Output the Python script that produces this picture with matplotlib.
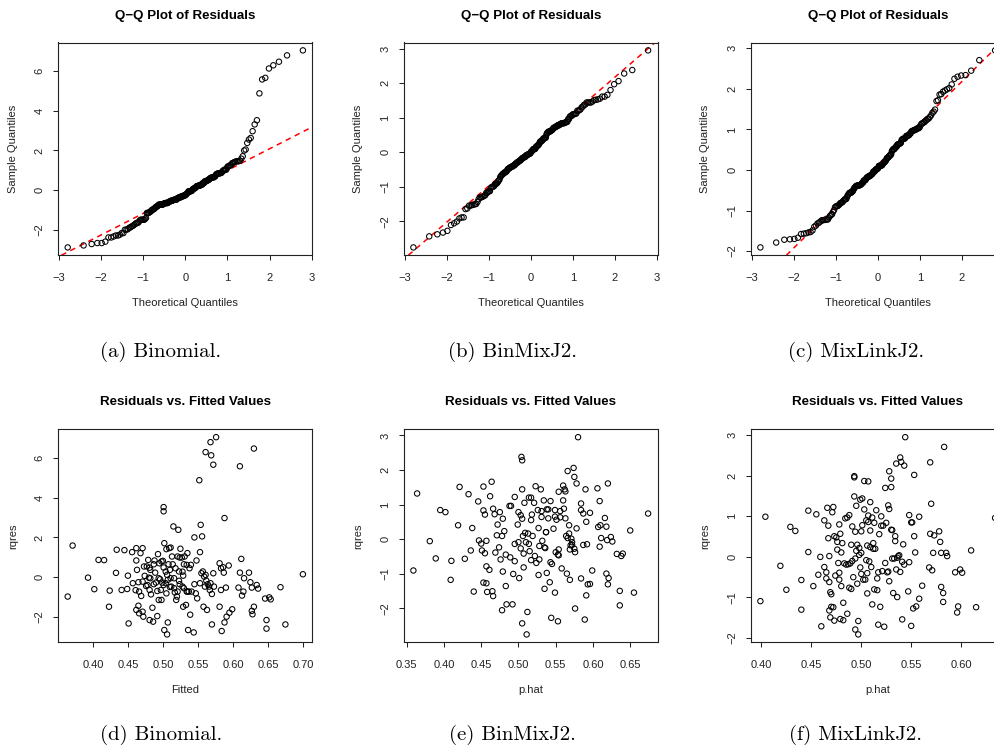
"""
Residual diagnostics for the three models: Q-Q plots (top row) and
residuals vs fitted values (bottom row), laid out like the LaTeX figure.
"""

import statistics
import numpy as np
import matplotlib
matplotlib.use("Agg")
import matplotlib.pyplot as plt


W, H = 995, 755

# ─── DATA ────────────────────────────────────────────────────────────────────

# (d) Binomial: fitted values and quantile residuals
FIT_BIN = [
    0.364, 0.371, 0.393, 0.402, 0.408, 0.416, 0.424, 0.423, 0.433, 0.434,
    0.441, 0.445, 0.449, 0.450, 0.451, 0.456, 0.457, 0.461, 0.462, 0.462,
    0.463, 0.465, 0.466, 0.465, 0.462, 0.466, 0.468, 0.471, 0.469, 0.471,
    0.472, 0.473, 0.474, 0.476, 0.477, 0.479, 0.480, 0.481, 0.481, 0.482,
    0.483, 0.485, 0.486, 0.487, 0.488, 0.489, 0.490, 0.492, 0.493, 0.494,
    0.495, 0.496, 0.497, 0.498, 0.499, 0.500, 0.501, 0.502, 0.501, 0.501,
    0.502, 0.504, 0.505, 0.505, 0.506, 0.506, 0.507, 0.507, 0.509, 0.510,
    0.510, 0.511, 0.512, 0.513, 0.514, 0.515, 0.516, 0.517, 0.519, 0.520,
    0.521, 0.522, 0.523, 0.524, 0.525, 0.527, 0.528, 0.529, 0.529, 0.530,
    0.531, 0.533, 0.534, 0.535, 0.536, 0.537, 0.538, 0.539, 0.540, 0.541,
    0.544, 0.545, 0.545, 0.547, 0.548, 0.549, 0.552, 0.553, 0.553, 0.554,
    0.555, 0.556, 0.557, 0.558, 0.559, 0.560, 0.561, 0.562, 0.563, 0.564,
    0.566, 0.567, 0.568, 0.568, 0.569, 0.570, 0.570, 0.572, 0.572, 0.573,
    0.576, 0.581, 0.583, 0.581, 0.584, 0.586, 0.587, 0.588, 0.588, 0.590,
    0.591, 0.594, 0.595, 0.599, 0.608, 0.610, 0.610, 0.612, 0.613, 0.615,
    0.616, 0.623, 0.625, 0.627, 0.627, 0.628, 0.630, 0.630, 0.634, 0.636,
    0.646, 0.652, 0.654, 0.648, 0.648, 0.668, 0.675, 0.700,
    0.481, 0.498, 0.508, 0.524, 0.518, 0.504, 0.494, 0.482, 0.471, 0.478,
    0.487, 0.501, 0.511, 0.523, 0.516, 0.530, 0.535, 0.521, 0.492, 0.528,
    0.534, 0.561, 0.583,
]
RES_BIN = [
    -0.97, 1.59, -0.02, -0.60, 0.87, 0.86, -0.67, -1.48, 0.22, 1.38,
    -0.64, 1.36, -0.59, 0.08, -2.32, 1.26, -0.30, -0.65, 1.46, 0.84,
    0.37, -0.25, -0.72, -1.43, -1.64, -1.81, 1.21, 1.46, -0.94, -1.73,
    -1.98, 0.54, 0.07, -0.44, 0.54, 0.87, -0.02, -0.64, -2.15, 0.37,
    -0.86, -1.53, -2.23, 0.65, 0.84, 0.23, -0.27, -1.95, 1.16, -1.14,
    0.70, -0.10, -0.64, -1.14, -0.27, 0.82, 0.49, 1.71, 3.52, 3.31,
    -2.65, -0.30, 1.41, -0.81, -2.87, 0.12, -0.13, -2.27, 1.46, 0.37,
    -0.49, 1.49, -0.47, 1.04, 0.65, 2.55, -0.05, -0.76, -1.14, -0.97,
    1.04, 2.38, 0.29, -0.35, 1.43, 0.99, -0.47, -1.48, 0.08, 0.65,
    1.04, -1.39, -0.72, 1.21, -2.65, -0.72, 0.45, -1.88, 0.62, -0.72,
    -2.77, -0.35, 2.00, -0.81, 0.84, -1.06, 4.87, 1.26, -0.30, 2.63,
    0.20, 2.05, 0.29, -1.48, 0.03, -0.47, 6.28, -0.17, -1.64, -0.35,
    -0.47, -0.64, 6.78, -0.30, 6.12, -0.84, -2.37, 0.20, 5.65, -0.47,
    7.03, -1.48, -0.64, 0.70, -2.70, 0.50, 0.23, 2.97, -2.27, -0.52,
    -1.98, 0.59, -1.78, -1.61, -0.52, 5.57, 0.23, 0.92, -0.92, -0.72,
    -0.05, 0.23, -0.25, -1.69, -0.52, -1.86, -1.48, 6.46, -0.39, -0.57,
    -1.07, -1.01, -1.11, -2.15, -2.58, -0.50, -2.37, 0.15,
    0.48, 0.79, 0.65, 0.99, 0.45, 0.28, -0.05, -0.05, -0.22, -0.39,
    -0.35, -0.39, -0.05, -0.18, -0.55, -0.55, -0.72, -0.72, -0.69, 0.28,
    0.62, 0.12, 0.45,
]

# (e) BinMixJ2
FIT_BMX = [
    0.359, 0.364, 0.381, 0.389, 0.395, 0.402, 0.410, 0.409, 0.419, 0.421,
    0.428, 0.433, 0.436, 0.438, 0.440, 0.446, 0.447, 0.450, 0.451, 0.453,
    0.453, 0.453, 0.455, 0.455, 0.457, 0.457, 0.457, 0.458, 0.461, 0.462,
    0.464, 0.465, 0.466, 0.466, 0.468, 0.469, 0.471, 0.472, 0.474, 0.475,
    0.476, 0.478, 0.478, 0.479, 0.479, 0.481, 0.483, 0.483, 0.484, 0.488,
    0.489, 0.490, 0.492, 0.493, 0.495, 0.495, 0.495, 0.499, 0.500, 0.500,
    0.501, 0.503, 0.503, 0.504, 0.505, 0.505, 0.505, 0.505, 0.506, 0.507,
    0.507, 0.508, 0.509, 0.510, 0.511, 0.512, 0.513, 0.514, 0.514, 0.515,
    0.517, 0.517, 0.517, 0.518, 0.519, 0.521, 0.522, 0.523, 0.524, 0.526,
    0.527, 0.527, 0.528, 0.528, 0.530, 0.531, 0.531, 0.532, 0.534, 0.535,
    0.535, 0.536, 0.537, 0.537, 0.538, 0.538, 0.540, 0.540, 0.542, 0.543,
    0.543, 0.544, 0.545, 0.547, 0.549, 0.549, 0.549, 0.550, 0.551, 0.553,
    0.553, 0.554, 0.554, 0.556, 0.556, 0.554, 0.558, 0.560, 0.560, 0.561,
    0.562, 0.563, 0.563, 0.564, 0.565, 0.566, 0.566, 0.568, 0.568, 0.569,
    0.569, 0.570, 0.571, 0.572, 0.572, 0.574, 0.575, 0.575, 0.576, 0.576,
    0.578, 0.578, 0.580, 0.584, 0.584, 0.584, 0.587, 0.587, 0.589, 0.590,
    0.591, 0.591, 0.592, 0.593, 0.596, 0.596, 0.599, 0.606, 0.607, 0.609,
    0.609, 0.610, 0.611, 0.616, 0.618, 0.618, 0.619, 0.620, 0.620, 0.621,
    0.624, 0.626, 0.632, 0.636, 0.636, 0.638, 0.640, 0.650, 0.655, 0.674,
]
RES_BMX = [
    -0.91, 1.32, -0.06, -0.56, 0.84, 0.78, -0.63, -1.18, 0.40, 1.51,
    -0.57, 1.30, -0.33, 0.32, -1.52, 1.09, -0.04, -0.13, -0.33, -1.26,
    1.52, 0.83, 0.71, -0.41, -1.28, -0.05, -0.79, -1.53, -0.89, 1.24,
    1.66, -1.51, -1.65, 0.88, 0.72, -0.39, 0.11, 0.42, -0.24, 0.78,
    -0.59, 0.09, -2.06, 0.59, -0.94, 0.23, -0.45, -1.36, -1.89, 0.96,
    -0.53, 0.96, -1.89, -1.01, -0.64, 1.22, -0.14, 0.42, 0.78, -0.09,
    -1.13, 0.69, -0.27, 2.38, 1.44, 0.59, -2.44, 2.28, 0.09, -0.82,
    -0.42, 1.05, 0.18, -0.09, -2.76, -2.11, 0.16, 1.20, -0.14, -0.35,
    0.55, -0.61, 1.20, 0.71, 0.09, 1.05, -0.49, 1.53, -0.69, 0.84,
    -1.04, 0.32, -0.59, -0.20, 1.44, 0.81, 0.64, -0.05, 1.12, -0.24,
    -1.44, -0.26, 0.20, 0.20, 0.86, -0.98, 0.86, 0.60, -1.25, 1.10,
    -0.67, -2.28, -0.72, 0.30, -1.55, 0.65, 0.84, -0.38, 0.56, -2.38,
    -0.45, -0.30, -0.47, 0.81, 0.63, 1.37, -0.85, 1.55, 1.12, 0.88,
    1.44, 1.38, 0.60, 0.09, -1.00, 1.97, 0.03, 0.40, 0.16, -0.30,
    -1.18, -0.18, 0.01, -0.09, -0.17, 2.06, -0.28, 1.80, -2.01, -0.38,
    1.61, 0.31, 2.95, 1.03, 0.84, -1.14, -0.17, 0.74, -2.33, 1.44,
    0.50, -1.63, -0.15, -1.31, 0.76, -1.30, -0.91, 1.47, 0.35, 1.10,
    -0.22, 0.40, 0.03, 0.61, 0.36, -1.00, -0.03, 1.61, -1.31, -1.13,
    0.06, -0.07, -0.43, -1.92, -1.50, -0.49, -0.42, 0.25, -1.55, 0.74,
]

# (f) MixLinkJ2
FIT_MLK = [
    0.399, 0.404, 0.419, 0.425, 0.429, 0.434, 0.440, 0.440, 0.447, 0.447,
    0.452, 0.455, 0.457, 0.459, 0.460, 0.463, 0.463, 0.465, 0.465, 0.466,
    0.467, 0.467, 0.468, 0.468, 0.468, 0.469, 0.469, 0.470, 0.470, 0.471,
    0.472, 0.472, 0.473, 0.473, 0.474, 0.475, 0.476, 0.476, 0.477, 0.478,
    0.478, 0.478, 0.479, 0.479, 0.480, 0.480, 0.481, 0.482, 0.482, 0.483,
    0.484, 0.485, 0.486, 0.486, 0.487, 0.488, 0.488, 0.489, 0.490, 0.490,
    0.491, 0.491, 0.492, 0.493, 0.493, 0.493, 0.494, 0.494, 0.494, 0.495,
    0.495, 0.496, 0.496, 0.497, 0.497, 0.498, 0.498, 0.499, 0.499, 0.500,
    0.500, 0.500, 0.501, 0.501, 0.502, 0.503, 0.503, 0.504, 0.505, 0.505,
    0.506, 0.506, 0.506, 0.507, 0.507, 0.507, 0.508, 0.509, 0.509, 0.509,
    0.510, 0.511, 0.511, 0.512, 0.512, 0.513, 0.513, 0.514, 0.515, 0.516,
    0.516, 0.517, 0.517, 0.518, 0.519, 0.520, 0.520, 0.521, 0.522, 0.523,
    0.524, 0.524, 0.525, 0.526, 0.527, 0.527, 0.528, 0.528, 0.528, 0.530,
    0.530, 0.530, 0.531, 0.531, 0.532, 0.533, 0.534, 0.534, 0.535, 0.535,
    0.536, 0.536, 0.537, 0.538, 0.539, 0.539, 0.540, 0.541, 0.541, 0.542,
    0.543, 0.543, 0.544, 0.547, 0.548, 0.548, 0.550, 0.550, 0.551, 0.552,
    0.553, 0.553, 0.554, 0.555, 0.558, 0.558, 0.561, 0.568, 0.569, 0.569,
    0.570, 0.571, 0.572, 0.573, 0.578, 0.579, 0.580, 0.580, 0.582, 0.582,
    0.583, 0.585, 0.586, 0.594, 0.596, 0.597, 0.599, 0.601, 0.610, 0.615,
    0.634,
]
RES_MLK = [
    -1.09, 0.99, -0.22, -0.81, 0.74, 0.64, -1.30, -0.57, 0.12, 1.14,
    -0.72, 1.05, -0.44, 0.00, -1.71, 0.90, -0.25, -0.38, -0.53, 1.21,
    0.77, 0.46, -0.62, -1.32, 0.02, -0.87, -1.49, -1.23, -0.92, 1.10,
    1.23, -1.24, 0.51, -1.57, -0.46, 0.48, 0.37, 0.18, -0.15, -0.39,
    0.80, -0.56, -1.53, 0.57, 0.11, -0.72, 0.34, -1.13, -1.56, -0.16,
    0.95, -0.19, 0.97, -1.40, -0.18, -0.76, 1.03, -0.16, 0.30, -0.79,
    -0.10, 0.75, -0.50, 1.99, 1.96, 1.49, 0.62, -1.79, -0.04, 0.15,
    1.26, -0.66, 0.30, -1.58, -1.91, 0.05, 0.22, 1.41, -0.26, -0.42,
    0.10, 0.63, 0.78, 1.44, -0.56, 1.17, 1.87, -0.56, -0.08, 0.90,
    0.28, -0.40, -0.90, 1.02, 0.86, 1.86, -0.11, 0.24, 1.35, 0.65,
    -0.25, -1.17, 0.97, 0.34, 0.20, -0.80, 0.84, 0.20, 1.15, -0.82,
    -0.53, -1.67, -0.38, 0.56, -1.23, 1.00, 0.77, -0.35, 0.77, -1.72,
    1.70, -0.15, 0.84, -0.38, -0.36, 1.27, 2.11, -0.60, 1.18, 1.93,
    0.67, 1.72, 0.66, -0.04, -0.89, -0.04, 0.51, 0.39, 2.30, -0.31,
    -0.02, -0.99, 0.02, 0.04, -0.37, 2.45, 2.34, -0.12, -1.54, 0.31,
    -0.19, 2.25, 2.95, -0.85, 1.03, -0.13, 0.85, -1.70, 0.85, -1.27,
    0.51, 2.02, 0.11, -1.22, 0.99, -1.03, -0.71, -0.26, 2.33, 0.57,
    1.31, -0.33, 0.10, 0.53, 0.63, 0.37, -0.74, 0.10, -1.11, -0.89,
    2.71, 0.10, 0.02, -0.38, -1.37, -1.22, -0.31, -0.39, 0.16, -1.24,
    0.96,
]

MODELS = ["Binomial.", "BinMixJ2.", "MixLinkJ2."]
LETTERS_TOP = ["(a)", "(b)", "(c)"]
LETTERS_BOT = ["(d)", "(e)", "(f)"]
FITTED_LABELS = ["Fitted", "p.hat", "p.hat"]

# the right-hand column is cropped at the page edge, so its last tick
# labels are not shown
QQ_X_TICKS = [
    [-3, -2, -1, 0, 1, 2, 3],
    [-3, -2, -1, 0, 1, 2, 3],
    [-3, -2, -1, 0, 1, 2],
]
QQ_Y_TICKS = [[-2, 0, 2, 4, 6], [-2, -1, 0, 1, 2, 3], [-2, -1, 0, 1, 2, 3]]
RF_X_TICKS = [
    [0.40, 0.45, 0.50, 0.55, 0.60, 0.65, 0.70],
    [0.35, 0.40, 0.45, 0.50, 0.55, 0.60, 0.65],
    [0.40, 0.45, 0.50, 0.55, 0.60],
]
RF_Y_TICKS = QQ_Y_TICKS


# ─── STYLE ───────────────────────────────────────────────────────────────────

plt.rcParams["font.family"] = ["Liberation Sans", "DejaVu Sans"]
plt.rcParams["axes.unicode_minus"] = True

FS = 8.0           # tick / axis label size
FS_TITLE = 9.6     # bold main title
TICK_LEN = 3.8

# plot boxes in pixels: (left, right) per column, (top, bottom) per row
COLS = [(58.3, 312.3), (404.0, 657.5), (751.0, 1004.5)]
ROW_TOP = (42.5, 255.3)
ROW_BOT = (429.3, 642.3)
CAP_X = [161, 512, 856]
CAP_Y = [352, 735]


def fmt_tick(v, decimals):
    s = f"{v:.{decimals}f}"
    return s.replace("-", "\u2212")


def add_box(fig, col, row):
    (l, r), (t, b) = col, row
    return fig.add_axes([l / W, 1 - b / H, (r - l) / W, (b - t) / H])


def r_limits(vals):
    lo, hi = min(vals), max(vals)
    pad = 0.04 * (hi - lo)
    return lo - pad, hi + pad


def style_panel(ax, title, xlabel, ylabel, xticks, yticks, xdec, ydec):
    ax.set_xticks(xticks)
    ax.set_xticklabels([fmt_tick(v, xdec) for v in xticks], fontsize=FS)
    ax.set_yticks(yticks)
    ax.set_yticklabels([fmt_tick(v, ydec) for v in yticks], fontsize=FS,
                       rotation=90, va="center")
    ax.tick_params(axis="both", direction="out", length=TICK_LEN,
                   width=0.75, colors="#222222")
    ax.tick_params(axis="x", pad=9.2)
    ax.tick_params(axis="y", pad=6.0)
    for sp in ax.spines.values():
        sp.set_linewidth(0.8)
        sp.set_color("#222222")

    h_px = ax.get_position().height * H
    w_px = ax.get_position().width * W
    ax.text(0.5, 1 + 27.0 / h_px, title, transform=ax.transAxes,
            ha="center", va="center", fontsize=FS_TITLE, fontweight="bold")
    ax.text(0.5, -48.0 / h_px, xlabel, transform=ax.transAxes,
            ha="center", va="center", fontsize=FS, color="#222222")
    ax.text(-45.5 / w_px, 0.5, ylabel, transform=ax.transAxes, rotation=90,
            ha="center", va="center", fontsize=FS, color="#222222")


def qq_points(values):
    # R's qqnorm: ppoints(n) then normal quantiles
    n = len(values)
    a = 3 / 8 if n <= 10 else 0.5
    nd = statistics.NormalDist()
    theo = [nd.inv_cdf((i + 1 - a) / (n + 1 - 2 * a)) for i in range(n)]
    return np.array(theo), np.sort(np.asarray(values))


def qq_line(values):
    # R's qqline: line through the first and third quartiles
    y = np.quantile(values, [0.25, 0.75])
    nd = statistics.NormalDist()
    x = np.array([nd.inv_cdf(0.25), nd.inv_cdf(0.75)])
    slope = (y[1] - y[0]) / (x[1] - x[0])
    return y[0] - slope * x[0], slope


def scatter_circles(ax, x, y):
    ax.scatter(x, y, s=15, facecolors="none", edgecolors="black",
               linewidths=0.75, zorder=3, clip_on=True)


# ─── FIGURE ──────────────────────────────────────────────────────────────────

fig = plt.figure(figsize=(W / 100, H / 100), dpi=100)
fig.patch.set_facecolor("white")

fitted = [FIT_BIN, FIT_BMX, FIT_MLK]
resids = [RES_BIN, RES_BMX, RES_MLK]

for i in range(3):
    # top row: normal Q-Q of residuals
    ax = add_box(fig, COLS[i], ROW_TOP)
    tx, sy = qq_points(resids[i])
    scatter_circles(ax, tx, sy)
    icpt, slope = qq_line(resids[i])
    ax.axline((0, icpt), slope=slope, color="#FF0000", lw=1.1,
              dashes=(3.6, 3.0), zorder=2)
    ax.set_xlim(*r_limits(tx))
    ax.set_ylim(*r_limits(sy))
    style_panel(ax, "Q\u2212Q Plot of Residuals", "Theoretical Quantiles",
                "Sample Quantiles", QQ_X_TICKS[i], QQ_Y_TICKS[i], 0, 0)

    # bottom row: residuals vs fitted
    ax = add_box(fig, COLS[i], ROW_BOT)
    scatter_circles(ax, fitted[i], resids[i])
    ax.set_xlim(*r_limits(fitted[i]))
    ax.set_ylim(*r_limits(resids[i]))
    style_panel(ax, "Residuals vs. Fitted Values", FITTED_LABELS[i], "rqres",
                RF_X_TICKS[i], RF_Y_TICKS[i], 2, 0)

    # subfigure captions
    fig.text(CAP_X[i] / W, 1 - CAP_Y[0] / H, f"{LETTERS_TOP[i]} {MODELS[i]}",
             ha="center", va="center", fontsize=15, family="cmr10")
    fig.text(CAP_X[i] / W, 1 - CAP_Y[1] / H, f"{LETTERS_BOT[i]} {MODELS[i]}",
             ha="center", va="center", fontsize=15, family="cmr10")

fig.savefig("out.png", dpi=100, facecolor="white")
